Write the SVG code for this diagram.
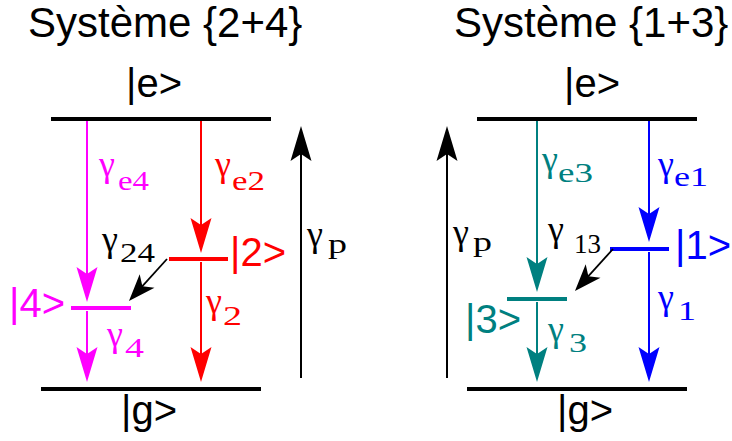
<svg xmlns="http://www.w3.org/2000/svg" width="732" height="441" viewBox="0 0 732 441">
<style>
.title{font-family:"Liberation Sans",Arial,sans-serif;font-size:42px;fill:#000}
.ket{font-family:"Liberation Sans",Arial,sans-serif;font-size:40px}
.gam{font-family:"Liberation Serif","Times New Roman",serif;font-size:36px}
.sub{font-family:"Liberation Serif","Times New Roman",serif;font-size:27px}
.lvl{stroke-width:4;fill:none}
.arr{stroke-width:2;fill:none}
.k{fill:#000;stroke:#000}
.m{fill:#ff00ff;stroke:#ff00ff}
.r{fill:#ff0000;stroke:#ff0000}
.t{fill:#008080;stroke:#008080}
.b{fill:#0000ff;stroke:#0000ff}
text{stroke:none}
</style>
<defs>
<marker id="ak" markerUnits="userSpaceOnUse" orient="auto" markerWidth="40" markerHeight="24" refX="0" refY="0" overflow="visible"><path d="M24,0 L-11,-10.5 L-4,0 L-11,10.5 Z" fill="#000" stroke="none"/></marker>
<marker id="am" markerUnits="userSpaceOnUse" orient="auto" markerWidth="40" markerHeight="24" refX="0" refY="0" overflow="visible"><path d="M24,0 L-11,-10.5 L-4,0 L-11,10.5 Z" fill="#ff00ff" stroke="none"/></marker>
<marker id="ar" markerUnits="userSpaceOnUse" orient="auto" markerWidth="40" markerHeight="24" refX="0" refY="0" overflow="visible"><path d="M24,0 L-11,-10.5 L-4,0 L-11,10.5 Z" fill="#ff0000" stroke="none"/></marker>
<marker id="at" markerUnits="userSpaceOnUse" orient="auto" markerWidth="40" markerHeight="24" refX="0" refY="0" overflow="visible"><path d="M24,0 L-11,-10.5 L-4,0 L-11,10.5 Z" fill="#008080" stroke="none"/></marker>
<marker id="ab" markerUnits="userSpaceOnUse" orient="auto" markerWidth="40" markerHeight="24" refX="0" refY="0" overflow="visible"><path d="M24,0 L-11,-10.5 L-4,0 L-11,10.5 Z" fill="#0000ff" stroke="none"/></marker>
<marker id="as" markerUnits="userSpaceOnUse" orient="auto" markerWidth="30" markerHeight="24" refX="0" refY="0" overflow="visible"><path d="M16,0 L-11,-10 L-4,0 L-11,10 Z" fill="#000" stroke="none"/></marker>
</defs>

<!-- titles -->
<text id="title-left" class="title" x="28" y="37">Système {2+4}</text>
<text id="title-right" class="title" x="454" y="37">Système {1+3}</text>

<!-- Left system nodes -->
<g id="e-left">
<line class="lvl k" x1="51" y1="119" x2="271" y2="119"/>
<text class="ket" x="126" y="97" fill="#000">|e&gt;</text>
</g>
<g id="g-left">
<line class="lvl k" x1="41" y1="389" x2="261" y2="389"/>
<text class="ket" x="121" y="424" fill="#000">|g&gt;</text>
</g>
<g id="level4">
<line class="lvl m" x1="71" y1="308" x2="131" y2="308"/>
<text class="ket" x="9" y="317" fill="#ff00ff">|4&gt;</text>
</g>
<g id="level2">
<line class="lvl r" x1="169" y1="259" x2="228" y2="259"/>
<text class="ket" x="230" y="266" fill="#ff0000">|2&gt;</text>
</g>

<!-- Right system nodes -->
<g id="e-right">
<line class="lvl k" x1="477" y1="119" x2="697" y2="119"/>
<text class="ket" x="564" y="97" fill="#000">|e&gt;</text>
</g>
<g id="g-right">
<line class="lvl k" x1="467" y1="389" x2="687" y2="389"/>
<text class="ket" x="557" y="424" fill="#000">|g&gt;</text>
</g>
<g id="level3">
<line class="lvl t" x1="507" y1="299" x2="567" y2="299"/>
<text class="ket" x="465" y="333" fill="#008080">|3&gt;</text>
</g>
<g id="level1">
<line class="lvl b" x1="610" y1="249" x2="669" y2="249"/>
<text class="ket" x="675" y="259" fill="#0000ff">|1&gt;</text>
</g>

<!-- connectors -->
<g id="connectors">
<line class="arr m" x1="87" y1="121" x2="87" y2="278" marker-end="url(#am)"/>
<line class="arr m" x1="87" y1="311" x2="87" y2="358" marker-end="url(#am)"/>
<line class="arr r" x1="201" y1="121" x2="201" y2="229" marker-end="url(#ar)"/>
<line class="arr r" x1="201" y1="262" x2="201" y2="358" marker-end="url(#ar)"/>
<line class="arr k" x1="301" y1="378" x2="301" y2="150" marker-end="url(#ak)"/>
<line class="k" stroke-width="1.8" x1="167" y1="259" x2="139.7" y2="289.1" marker-end="url(#as)"/>

<line class="arr k" x1="447" y1="378" x2="447" y2="150" marker-end="url(#ak)"/>
<line class="arr t" x1="537" y1="121" x2="537" y2="268" marker-end="url(#at)"/>
<line class="arr t" x1="537" y1="302" x2="537" y2="358" marker-end="url(#at)"/>
<line class="arr b" x1="649" y1="121" x2="649" y2="218" marker-end="url(#ab)"/>
<line class="arr b" x1="649" y1="252" x2="649" y2="358" marker-end="url(#ab)"/>
<line class="k" stroke-width="1.8" x1="613" y1="249" x2="585.7" y2="279.1" marker-end="url(#as)"/>
</g>

<!-- rate labels -->
<g id="labels">
<text class="gam" x="99" y="176" fill="#ff00ff">γ<tspan class="sub" x="118" y="190" textLength="31" lengthAdjust="spacingAndGlyphs">e4</tspan></text>
<text class="gam" x="215" y="176" fill="#ff0000">γ<tspan class="sub" x="232" y="190" textLength="33" lengthAdjust="spacingAndGlyphs">e2</tspan></text>
<text class="gam" x="102" y="251" fill="#000">γ<tspan class="sub" x="120" y="262" textLength="35" lengthAdjust="spacingAndGlyphs">24</tspan></text>
<text class="gam" x="307" y="246" fill="#000">γ<tspan class="sub" x="328" y="253" textLength="19" lengthAdjust="spacingAndGlyphs">p</tspan></text>
<text class="gam" x="107" y="346" fill="#ff00ff">γ<tspan class="sub" x="125" y="357" textLength="19" lengthAdjust="spacingAndGlyphs">4</tspan></text>
<text class="gam" x="206" y="313" fill="#ff0000">γ<tspan class="sub" x="223" y="325" textLength="19" lengthAdjust="spacingAndGlyphs">2</tspan></text>

<text class="gam" x="453" y="244" fill="#000">γ<tspan class="sub" x="473" y="251" textLength="19" lengthAdjust="spacingAndGlyphs">p</tspan></text>
<text class="gam" x="542" y="171" fill="#008080">γ<tspan class="sub" x="558" y="182" textLength="35" lengthAdjust="spacingAndGlyphs">e3</tspan></text>
<text class="gam" x="658" y="176" fill="#0000ff">γ<tspan class="sub" x="674" y="186" textLength="34" lengthAdjust="spacingAndGlyphs">e1</tspan></text>
<text class="gam" x="548" y="241" fill="#000">γ<tspan class="sub" x="574" y="253" textLength="27" lengthAdjust="spacingAndGlyphs">13</tspan></text>
<text class="gam" x="548" y="341" fill="#008080">γ<tspan class="sub" x="569" y="352" textLength="18" lengthAdjust="spacingAndGlyphs">3</tspan></text>
<text class="gam" x="658" y="309" fill="#0000ff">γ<tspan class="sub" x="678" y="320" textLength="18" lengthAdjust="spacingAndGlyphs">1</tspan></text>
</g>
</svg>
